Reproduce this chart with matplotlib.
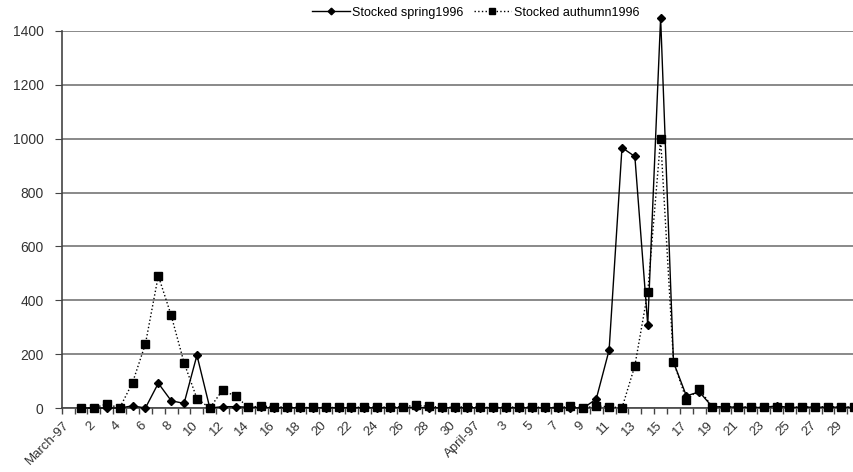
import numpy as np
import matplotlib.pyplot as plt
import matplotlib.transforms as mtrans

# categories: a month header, then day numbers
categories = (["March-97"] + [str(d) for d in range(1, 32)]
              + ["April-97"] + [str(d) for d in range(2, 31)])

# None = no value for that category
spring = [None, 0, 0, 0, 0, 8, 0, 92, 27, 17, 196, 0, 5, 5, 3, 2,
          1, 1, 1, 1, 1, 1, 1, 1, 1, 1, 2, 2, 1, 1, 1, 1,
          1, 1, 1, 1, 1, 1, 1, 1, 0, 33, 215, 967, 934, 308, 1450,
          170, 45, 60, 5, 4, 3, 2, 2, 8, 2, 3, 3, 3, 3, 2]
autumn = [None, 0, 0, 15, 0, 94, 238, 491, 344, 168, 35, 0, 67, 43, 3, 7,
          5, 3, 2, 2, 2, 2, 3, 3, 4, 3, 5, 10, 6, 3, 3, 5,
          3, 2, 3, 4, 3, 3, 2, 6, 0, 7, 5, 0, 157, 430, 1000,
          172, 30, 70, 5, 5, 5, 3, 2, 5, 3, 4, 5, 4, 5, 3]

yticks = [0, 200, 400, 600, 800, 1000, 1200, 1400]

plt.rcParams['font.family'] = ['Liberation Sans', 'DejaVu Sans']

x = np.arange(len(categories))
sp = np.array([np.nan if v is None else v for v in spring], dtype=float)
au = np.array([np.nan if v is None else v for v in autumn], dtype=float)

fig = plt.figure(figsize=(8.54, 4.72), dpi=100)
step = 12.88
ax = fig.add_axes([61.7 / 854, 64 / 472, len(categories) * step / 854, 377 / 472])

ax.plot(x, sp, '-', color='black', lw=1.0, marker='D', ms=4.5,
        label='Stocked spring1996', clip_on=False, zorder=4)
ax.plot(x, au, ':', color='black', lw=1.0, marker='s', ms=5.6,
        label='Stocked authumn1996', clip_on=False, zorder=3)

ax.set_xlim(-0.5, len(categories) - 0.5)
ax.set_ylim(0, 1400)
ax.set_yticks(yticks)
ax.yaxis.grid(True, color='#808080', lw=1.3)
ax.set_axisbelow(True)

# ticks at category boundaries, labels at every other category centre
ax.set_xticks(np.arange(len(categories) + 1) - 0.5)
ax.set_xticklabels([])
ax.tick_params(axis='x', which='major', direction='out', length=4,
               color='#444444', width=1)
ax.set_xticks(x[::2], minor=True)
ax.set_xticklabels(categories[::2], minor=True, rotation=45, ha='right',
                   rotation_mode='anchor', fontsize=9.5, color='#333333')
ax.tick_params(axis='x', which='minor', length=0, pad=8)
shift = mtrans.ScaledTranslation(-5 / 100, 0, fig.dpi_scale_trans)
for lab in ax.get_xticklabels(minor=True):
    lab.set_transform(lab.get_transform() + shift)
ax.tick_params(axis='y', direction='out', length=5, color='#444444',
               labelsize=10, labelcolor='#333333', pad=8)

for s in ['top', 'right']:
    ax.spines[s].set_visible(False)
for s in ['left', 'bottom']:
    ax.spines[s].set_color('#444444')
    ax.spines[s].set_linewidth(1.2)

fig.legend(loc='upper center', bbox_to_anchor=(0.557, 1.01), ncol=2,
           frameon=False, fontsize=9, handlelength=3.0, columnspacing=0.8,
           handletextpad=0.2, markerscale=0.75)

fig.savefig('out.png', dpi=100)
